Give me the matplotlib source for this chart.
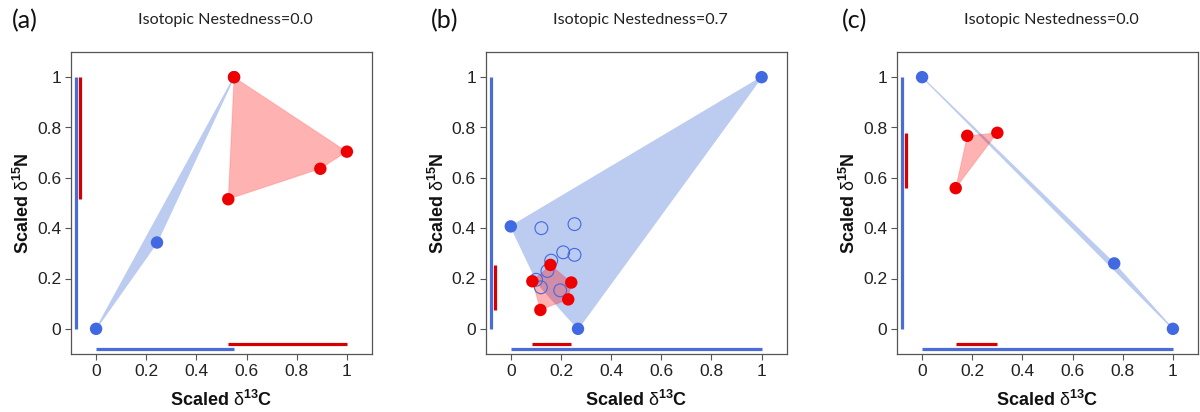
import numpy as np
import matplotlib
matplotlib.use("Agg")
import matplotlib.pyplot as plt
from matplotlib.patches import Polygon

plt.rcParams['font.family'] = ['Liberation Sans', 'DejaVu Sans']
plt.rcParams['mathtext.fontset'] = 'custom'
plt.rcParams['mathtext.rm'] = 'Liberation Sans'
plt.rcParams['mathtext.bf'] = 'Liberation Sans:bold'
plt.rcParams['mathtext.it'] = 'Liberation Sans:italic'

# ---- data (scaled isotope values) ----
panel_labels = ["(a)", "(b)", "(c)"]
nestedness = ["0.0", "0.7", "0.0"]

a_blue_x = [0.0, 0.243, 0.55]
a_blue_y = [0.0, 0.343, 1.0]
a_red_x = [0.55, 0.527, 0.894, 1.0]
a_red_y = [1.0, 0.515, 0.636, 0.704]

b_blue_x = [0.0, 1.0, 0.268]
b_blue_y = [0.407, 1.0, 0.0]
b_open_x = [0.122, 0.254, 0.209, 0.254, 0.161, 0.146, 0.120, 0.197, 0.101]
b_open_y = [0.400, 0.416, 0.304, 0.294, 0.271, 0.230, 0.165, 0.153, 0.195]
b_red_x = [0.158, 0.086, 0.241, 0.229, 0.118]
b_red_y = [0.254, 0.189, 0.184, 0.117, 0.075]

c_blue_x = [0.0, 0.766, 1.0]
c_blue_y = [1.0, 0.26, 0.0]
c_red_x = [0.134, 0.180, 0.300]
c_red_y = [0.559, 0.767, 0.779]

ticks = [0, 0.2, 0.4, 0.6, 0.8, 1]
tick_labels = ["0", "0.2", "0.4", "0.6", "0.8", "1"]

panels = [
    dict(bx=a_blue_x, by=a_blue_y, ox=[], oy=[], rx=a_red_x, ry=a_red_y),
    dict(bx=b_blue_x, by=b_blue_y, ox=b_open_x, oy=b_open_y, rx=b_red_x, ry=b_red_y),
    dict(bx=c_blue_x, by=c_blue_y, ox=[], oy=[], rx=c_red_x, ry=c_red_y),
]

BLUE = '#4169e1'
BLUE_BAR = '#4a6cd6'
BLUE_FILL = '#bccbf0'
RED = '#ee0000'
RED_BAR = '#d40000'
SPINE = '#555555'


def convex_hull(xs, ys):
    pts = sorted(set(zip(xs, ys)))
    if len(pts) < 3:
        return pts

    def cross(o, a, b):
        return (a[0] - o[0]) * (b[1] - o[1]) - (a[1] - o[1]) * (b[0] - o[0])

    lower, upper = [], []
    for p in pts:
        while len(lower) >= 2 and cross(lower[-2], lower[-1], p) <= 0:
            lower.pop()
        lower.append(p)
    for p in reversed(pts):
        while len(upper) >= 2 and cross(upper[-2], upper[-1], p) <= 0:
            upper.pop()
        upper.append(p)
    return lower[:-1] + upper[:-1]


fig = plt.figure(figsize=(12, 4.12), dpi=100)
lefts = [71 / 1200, 485.7 / 1200, 897 / 1200]
bottom = 1 - 354 / 412
w, h = 301 / 1200, 302 / 412

for i, p in enumerate(panels):
    ax = fig.add_axes([lefts[i], bottom, w, h])
    ax.set_xlim(-0.1, 1.1)
    ax.set_ylim(-0.1, 1.1)

    all_bx = list(p['bx']) + list(p['ox'])
    all_by = list(p['by']) + list(p['oy'])

    # convex hulls
    hb = convex_hull(all_bx, all_by)
    ax.add_patch(Polygon(hb, closed=True, facecolor=BLUE_FILL, edgecolor=BLUE_FILL,
                         lw=0.8, zorder=1))
    hr = convex_hull(p['rx'], p['ry'])
    ax.add_patch(Polygon(hr, closed=True, facecolor=(1, 0, 0, 0.3),
                         edgecolor=(1, 0, 0, 0.15), lw=0.8, zorder=2))

    # points
    if p['ox']:
        ax.scatter(p['ox'], p['oy'], s=85, facecolors='none', edgecolors=BLUE,
                   linewidths=0.8, zorder=3)
    ax.scatter(p['bx'], p['by'], s=80, color=BLUE, edgecolors='none', zorder=4)
    ax.scatter(p['rx'], p['ry'], s=80, color=RED, edgecolors='none', zorder=5)

    # range bars along the axes
    ax.plot([-0.08, -0.08], [min(all_by), max(all_by)], color=BLUE_BAR, lw=2.3,
            solid_capstyle='butt', zorder=6)
    ax.plot([-0.063, -0.063], [min(p['ry']), max(p['ry'])], color=RED_BAR, lw=2.3,
            solid_capstyle='butt', zorder=6)
    ax.plot([min(all_bx), max(all_bx)], [-0.081, -0.081], color=BLUE_BAR, lw=2.3,
            solid_capstyle='butt', zorder=6)
    ax.plot([min(p['rx']), max(p['rx'])], [-0.062, -0.062], color=RED_BAR, lw=2.3,
            solid_capstyle='butt', zorder=6)

    ax.set_xticks(ticks)
    ax.set_xticklabels(tick_labels)
    ax.set_yticks(ticks)
    ax.set_yticklabels(tick_labels)
    ax.tick_params(direction='out', length=4, width=0.8, color=SPINE, pad=3,
                   labelsize=12.5, labelcolor='#222222')
    for s in ax.spines.values():
        s.set_color(SPINE)
        s.set_linewidth(0.9)

    ax.set_xlabel(r"$\mathbf{Scaled}\ \mathrm{\delta}^{\mathbf{13}}\mathbf{C}$",
                  fontsize=13, labelpad=8, color='#111111')
    ax.set_ylabel(r"$\mathbf{Scaled}\ \mathrm{\delta}^{\mathbf{15}}\mathbf{N}$",
                  fontsize=13, labelpad=3, color='#111111')

    cx = (lefts[i] + w / 2) + 4 / 1200
    fig.text(cx, 1 - 20 / 412, f"Isotopic Nestedness={nestedness[i]}",
             ha='center', va='center', fontsize=11.6, family='Lato', color='#222222')

label_x = [12 / 1200, 431 / 1200, 842 / 1200]
for i, lab in enumerate(panel_labels):
    fig.text(label_x[i], 1 - 21 / 412, lab, ha='left', va='center', fontsize=18,
             family='Lato', color='#111111')

fig.savefig("out.png", dpi=100)
